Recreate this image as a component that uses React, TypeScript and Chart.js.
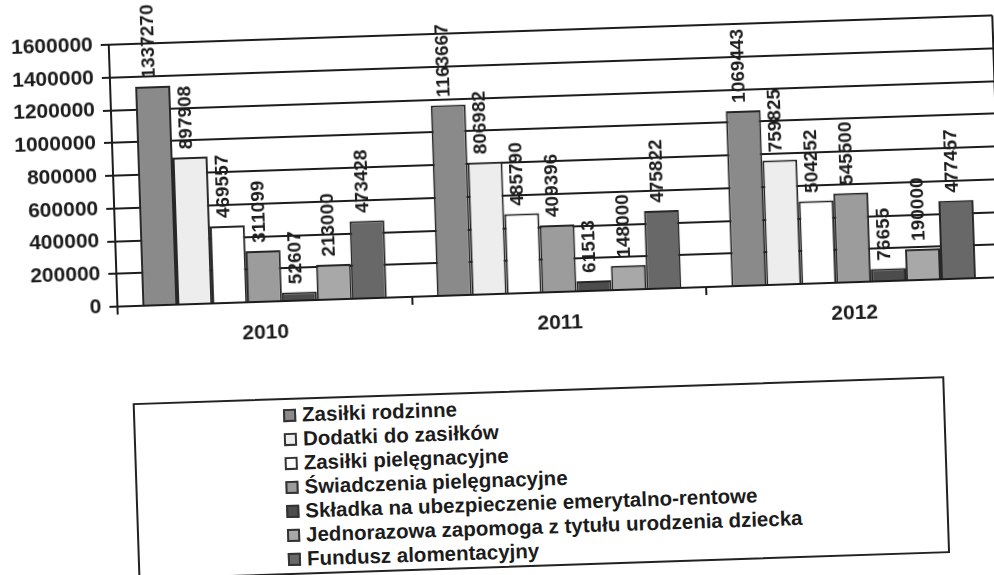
import React, { useEffect, useRef } from "react";
import { Chart, registerables } from "chart.js";

Chart.register(...registerables);

const categories = ["2010", "2011", "2012"];
const seriesNames = [
  "Zasiłki rodzinne",
  "Dodatki do zasiłków",
  "Zasiłki pielęgnacyjne",
  "Świadczenia pielęgnacyjne",
  "Składka na ubezpieczenie emerytalno-rentowe",
  "Jednorazowa zapomoga z tytułu urodzenia dziecka",
  "Fundusz alomentacyjny",
];
const zasilkiRodzinne = [1337270, 1163667, 1069443];
const dodatkiDoZasilkow = [897908, 806982, 759825];
const zasilkiPielegnacyjne = [469557, 485790, 504252];
const swiadczeniaPielegnacyjne = [311099, 409396, 545500];
const skladkaEmerytalna = [52607, 61513, 76655];
const jednorazowaZapomoga = [213000, 148000, 190000];
const funduszAlimentacyjny = [473428, 475822, 477457];
const yMax = 1600000;
const yStep = 200000;

const seriesValues = [
  zasilkiRodzinne,
  dodatkiDoZasilkow,
  zasilkiPielegnacyjne,
  swiadczeniaPielegnacyjne,
  skladkaEmerytalna,
  jednorazowaZapomoga,
  funduszAlimentacyjny,
];
const seriesColors = ["#8a8a8a", "#ededed", "#ffffff", "#9c9c9c", "#4c4c4c", "#a8a8a8", "#686868"];

const FONT = '"Liberation Sans", Arial, sans-serif';
const INK = "#1c1c1c";

const valueLabels = {
  id: "valueLabels",
  afterDatasetsDraw(chart: any) {
    const ctx = chart.ctx;
    ctx.save();
    ctx.font = `bold 19px ${FONT}`;
    ctx.fillStyle = INK;
    ctx.textAlign = "left";
    ctx.textBaseline = "middle";
    chart.data.datasets.forEach((ds: any, i: number) => {
      const meta = chart.getDatasetMeta(i);
      meta.data.forEach((bar: any, j: number) => {
        ctx.save();
        ctx.translate(bar.x - 3, bar.y - 8);
        ctx.rotate(-Math.PI / 2);
        ctx.fillText(String(ds.data[j]), 0, 0);
        ctx.restore();
      });
    });
    ctx.restore();
  },
};

const rightBorder = {
  id: "rightBorder",
  afterDraw(chart: any) {
    const { ctx, chartArea } = chart;
    ctx.save();
    ctx.strokeStyle = INK;
    ctx.lineWidth = 2;
    ctx.beginPath();
    ctx.moveTo(chartArea.right, chartArea.top);
    ctx.lineTo(chartArea.right, chartArea.bottom);
    ctx.stroke();
    ctx.restore();
  },
};

export default function App() {
  const canvasRef = useRef<HTMLCanvasElement | null>(null);

  useEffect(() => {
    if (!canvasRef.current) return;
    const chart = new Chart(canvasRef.current, {
      type: "bar",
      data: {
        labels: categories,
        datasets: seriesNames.map((name, i) => ({
          label: name,
          data: seriesValues[i],
          backgroundColor: seriesColors[i],
          borderColor: "#262626",
          borderWidth: 2,
          categoryPercentage: 0.83,
          barPercentage: 1.0,
        })),
      },
      options: {
        animation: false,
        responsive: false,
        layout: { padding: { top: 62, left: 0, right: 3, bottom: 0 } },
        plugins: {
          legend: { display: false },
          tooltip: { enabled: false },
        },
        scales: {
          x: {
            grid: {
              drawOnChartArea: false,
              drawTicks: true,
              tickLength: 8,
              color: INK,
              lineWidth: 2,
            },
            border: { display: true, color: INK, width: 2 },
            ticks: {
              padding: 11,
              color: INK,
              font: { family: FONT, size: 21, weight: "bold" },
            },
            afterFit: (scale: any) => {
              scale.height = 66;
            },
          },
          y: {
            min: 0,
            max: yMax,
            grid: {
              color: INK,
              lineWidth: 2,
              drawTicks: true,
              tickLength: 8,
            },
            border: { display: true, color: INK, width: 2 },
            ticks: {
              stepSize: yStep,
              padding: 8,
              color: INK,
              font: { family: FONT, size: 21, weight: "bold" },
              callback: (v: any) => String(v),
            },
            afterFit: (scale: any) => {
              scale.width = 117;
            },
          },
        },
      },
      plugins: [valueLabels, rightBorder],
    });
    return () => chart.destroy();
  }, []);

  return (
    <div
      style={{
        position: "fixed",
        left: 0,
        top: 0,
        width: 994,
        height: 575,
        overflow: "hidden",
        background: "#ffffff",
      }}
    >
      <div
        style={{
          position: "absolute",
          left: 0,
          top: 0,
          width: 994,
          height: 575,
          transform: "rotate(-1.9deg)",
          transformOrigin: "497px 287px",
        }}
      >
        <canvas
          ref={canvasRef}
          width={1004}
          height={390}
          style={{ position: "absolute", left: 0, top: -30, width: 1004, height: 390 }}
        />
        <div
          style={{
            position: "absolute",
            left: 129,
            top: 391,
            width: 812,
            height: 177,
            boxSizing: "border-box",
            border: "2px solid #222",
            background: "#fff",
            paddingTop: 3,
            paddingLeft: 148,
            fontFamily: FONT,
            fontWeight: "bold",
            fontSize: 20.5,
            color: INK,
          }}
        >
          {seriesNames.map((name, i) => (
            <div key={name} style={{ display: "flex", alignItems: "center", height: 24, whiteSpace: "nowrap" }}>
              <span
                style={{
                  display: "inline-block",
                  width: 13,
                  height: 13,
                  boxSizing: "border-box",
                  border: "2px solid #333",
                  background: seriesColors[i],
                  marginRight: 6,
                  flex: "0 0 auto",
                }}
              />
              <span>{name}</span>
            </div>
          ))}
        </div>
      </div>
    </div>
  );
}
